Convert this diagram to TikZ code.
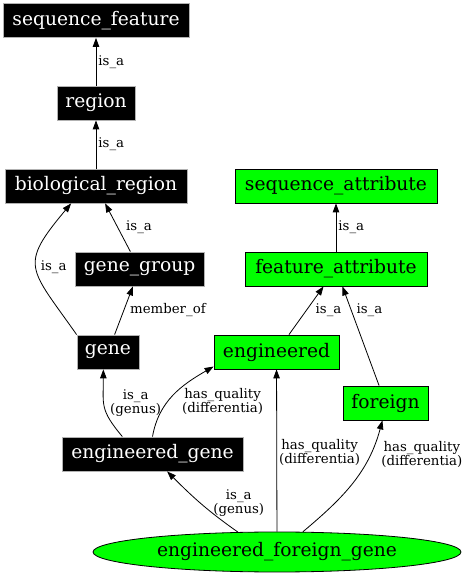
\documentclass[tikz,border=0pt]{standalone}
\usepackage{xcolor}
\usepackage{fontspec}
\setmainfont{DejaVu Serif}
\usepackage{tikz}
\usetikzlibrary{arrows.meta,shapes.geometric}

\newcommand{\termfont}{\fontsize{18.67}{20}\selectfont}
\newcommand{\edgefont}{\fontsize{13.33}{14}\selectfont}

\begin{document}
\begin{tikzpicture}[x=1pt,y=1pt,->,>={Triangle[length=9pt,width=6.5pt]},
            line width=0.8pt]
        \tikzstyle{term}=[draw=black!30,fill=black,text=white,font=\termfont,minimum height=34pt,inner sep=2pt]
        \tikzstyle{attr}=[draw=black,fill=green,text=black,font=\termfont,minimum height=34pt,inner sep=2pt]
        \tikzstyle{lbl}=[font=\edgefont,text=black,inner sep=2pt,align=center]

        \useasboundingbox (0,0) rectangle (465,576);

        \node[term,minimum width=186pt] (SF) at (96,555.5) {sequence\_feature};
        \node[term,minimum width=78pt] (R) at (96,473) {region};
        \node[term,minimum width=182pt] (BR) at (96,390) {biological\_region};
        \node[term,minimum width=129pt] (GG) at (139.5,307) {gene\_group};
        \node[term,minimum width=62pt] (G) at (108,224) {gene};
        \node[term,minimum width=181pt] (EG) at (152.5,122) {engineered\_gene};
        \node[attr,minimum width=202pt] (SA) at (336,390) {sequence\_attribute};
        \node[attr,minimum width=182pt] (FA) at (336,307) {feature\_attribute};
        \node[attr,minimum width=125pt] (E) at (276.5,224) {engineered};
        \node[attr,minimum width=85pt] (F) at (385.5,173) {foreign};
        \node[attr,ellipse,minimum width=368pt,minimum height=40pt] (EFG) at (277,24) {engineered\_foreign\_gene};

        \path (R) edge node[lbl,right] {is\_a} (SF);
        \path (BR) edge node[lbl,right] {is\_a} (R);
        \path (GG) edge node[lbl,right=6pt] {is\_a} (BR);
        \path (G.north west) edge[out=125,in=230,looseness=1.6] node[lbl,right=2pt] {is\_a} (BR.215);
        \path (G) edge node[lbl,right=4pt] {member\_of} (GG);
        \path (FA) edge node[lbl,right] {is\_a} (SA);
        \path (E) edge node[lbl,right=7pt] {is\_a} (FA);
        \path (F) edge node[lbl,pos=0.76,right=3pt] {is\_a} (FA);
        \path (EG.150) edge[out=130,in=270,looseness=1.3] node[lbl,pos=0.55,right=4pt] {is\_a\\(genus)} (G.255);
        \path (EG.north) edge[out=80,in=210] node[lbl,pos=0.4,right=12pt] {has\_quality\\(differentia)} (E.193);
        \path (EFG.153) edge[out=145,in=315] node[lbl,right=10pt] {is\_a\\(genus)} (EG.310);
        \path (EFG) edge node[lbl,pos=0.485,right] {has\_quality\\(differentia)} (E);
        \path (EFG.38) edge[out=40,in=255] node[lbl,pos=0.75,right=9pt] {has\_quality\\(differentia)} (F.260);
    \end{tikzpicture}
\end{document}
